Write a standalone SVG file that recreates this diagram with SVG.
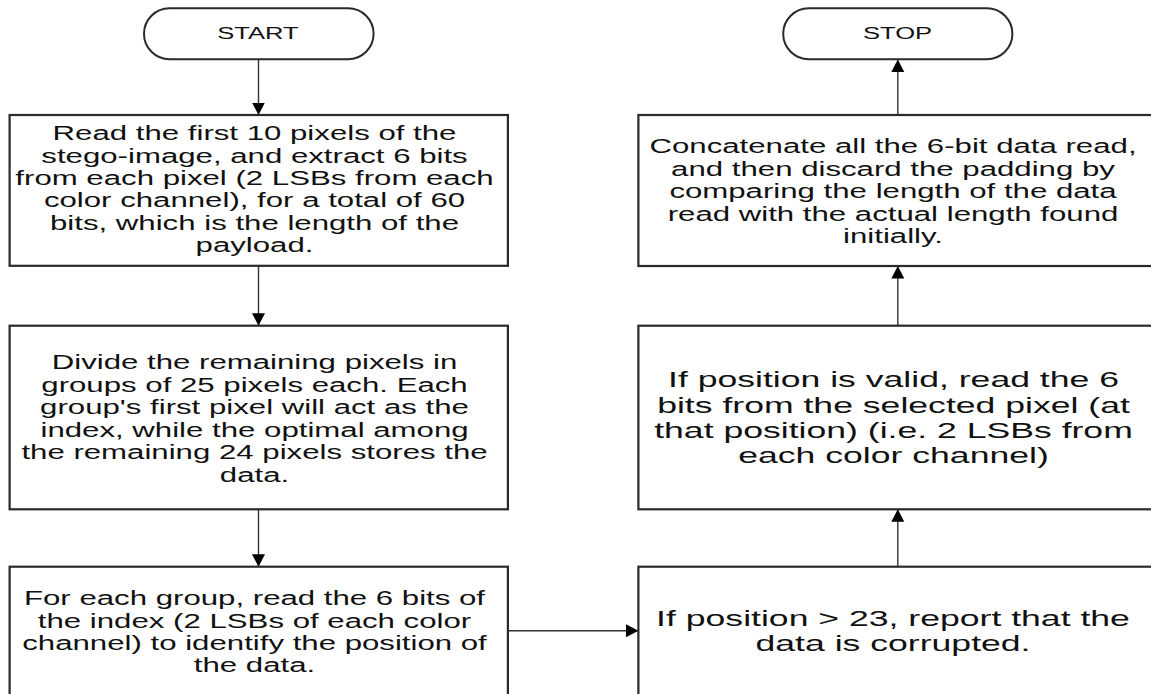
<svg xmlns="http://www.w3.org/2000/svg" width="1151" height="694" viewBox="0 0 1151 694">
<style>
.box{fill:#fff;stroke:#2a2a2a;stroke-width:2.2}
.term{fill:#fff;stroke:#2a2a2a;stroke-width:2}
.conn{fill:none;stroke:#333;stroke-width:1.4}
text{font-family:"Liberation Sans",Arial,sans-serif;fill:#111;text-anchor:middle}
.reg{font-size:19.5px}
.lg{font-size:22.25px}
.tt{font-size:16px}
</style>
<defs>
<marker id="ah" markerUnits="userSpaceOnUse" markerWidth="13" markerHeight="14" refX="12.5" refY="7" orient="auto">
<path d="M0,0.5 L12.5,7 L0,13.5 z" fill="#000"/>
</marker>
</defs>
<rect width="1151" height="694" fill="#fff"/>
<g id="connectors">
<line class="conn" x1="258.5" y1="59.5" x2="258.5" y2="115" marker-end="url(#ah)"/>
<line class="conn" x1="258.5" y1="266" x2="258.5" y2="325.7" marker-end="url(#ah)"/>
<line class="conn" x1="258.5" y1="509.5" x2="258.5" y2="566.7" marker-end="url(#ah)"/>
<line class="conn" x1="508" y1="630.7" x2="638.4" y2="630.7" marker-end="url(#ah)"/>
<line class="conn" x1="897.8" y1="566.7" x2="897.8" y2="509.3" marker-end="url(#ah)"/>
<line class="conn" x1="897.8" y1="325.7" x2="897.8" y2="266" marker-end="url(#ah)"/>
<line class="conn" x1="897.8" y1="115" x2="897.8" y2="59.5" marker-end="url(#ah)"/>
</g>
<g id="start">
<rect class="term" x="144" y="8.3" width="229.6" height="51" rx="25.5" ry="25.5"/>
<g transform="translate(258,0) scale(1.6,1)"><text class="tt" x="0" y="39.5">START</text></g>
</g>
<g id="stop">
<rect class="term" x="783.2" y="8.3" width="229.2" height="51" rx="25.5" ry="25.5"/>
<g transform="translate(897.5,0) scale(1.6,1)"><text class="tt" x="0" y="39.5">STOP</text></g>
</g>
<g id="read-length">
<rect class="box" x="9.6" y="115" width="498.3" height="150.8"/>
<g transform="translate(254.5,0) scale(1.6,1)">
<text class="reg" x="0" y="140.3">Read the first 10 pixels of the</text>
<text class="reg" x="0" y="162.7">stego-image, and extract 6 bits</text>
<text class="reg" x="0" y="185.1">from each pixel (2 LSBs from each</text>
<text class="reg" x="0" y="207.5">color channel), for a total of 60</text>
<text class="reg" x="0" y="229.9">bits, which is the length of the</text>
<text class="reg" x="0" y="252.3">payload.</text>
</g>
</g>
<g id="divide">
<rect class="box" x="9.6" y="325.7" width="498.3" height="183.6"/>
<g transform="translate(254.5,0) scale(1.6,1)">
<text class="reg" x="0" y="369.3">Divide the remaining pixels in</text>
<text class="reg" x="0" y="391.7">groups of 25 pixels each. Each</text>
<text class="reg" x="0" y="414.3">group's first pixel will act as the</text>
<text class="reg" x="0" y="436.7">index, while the optimal among</text>
<text class="reg" x="0" y="459.3">the remaining 24 pixels stores the</text>
<text class="reg" x="0" y="481.7">data.</text>
</g>
</g>
<g id="read-index">
<rect class="box" x="9.6" y="566.7" width="498.3" height="140"/>
<g transform="translate(254.5,0) scale(1.6,1)">
<text class="reg" x="0" y="605">For each group, read the 6 bits of</text>
<text class="reg" x="0" y="627.7">the index (2 LSBs of each color</text>
<text class="reg" x="0" y="650">channel) to identify the position of</text>
<text class="reg" x="0" y="672.3">the data.</text>
</g>
</g>
<g id="check-position">
<rect class="box" x="638.4" y="566.7" width="530" height="140"/>
<g transform="translate(893,0) scale(1.6,1)">
<text class="lg" x="0" y="625.7">If position &gt; 23, report that the</text>
<text class="lg" x="0" y="651">data is corrupted.</text>
</g>
</g>
<g id="read-data">
<rect class="box" x="638.4" y="325.7" width="530" height="183.6"/>
<g transform="translate(893.5,0) scale(1.6,1)">
<text class="lg" x="0" y="387.3">If position is valid, read the 6</text>
<text class="lg" x="0" y="412.7">bits from the selected pixel (at</text>
<text class="lg" x="0" y="438">that position) (i.e. 2 LSBs from</text>
<text class="lg" x="0" y="463.3">each color channel)</text>
</g>
</g>
<g id="concatenate">
<rect class="box" x="638.4" y="115" width="530" height="151"/>
<g transform="translate(893,0) scale(1.6,1)">
<text class="reg" x="0" y="153.3">Concatenate all the 6-bit data read,</text>
<text class="reg" x="0" y="175.7">and then discard the padding by</text>
<text class="reg" x="0" y="198.3">comparing the length of the data</text>
<text class="reg" x="0" y="220.7">read with the actual length found</text>
<text class="reg" x="0" y="243.3">initially.</text>
</g>
</g>
</svg>
